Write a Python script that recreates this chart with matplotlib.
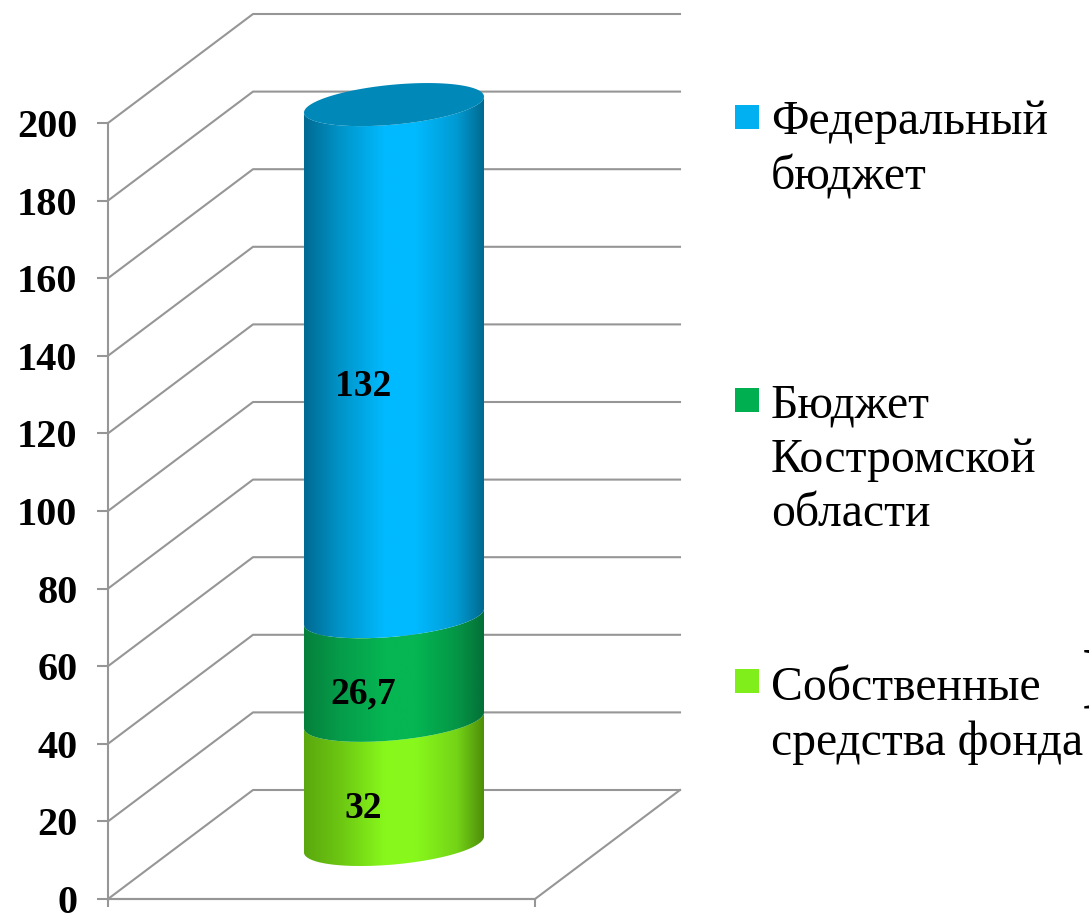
import numpy as np
import matplotlib
matplotlib.use("Agg")
import matplotlib.pyplot as plt
from matplotlib.colors import LinearSegmentedColormap
from matplotlib.patches import PathPatch, Rectangle
from matplotlib.path import Path

# data
series = ["Собственные\nсредства фонда", "Бюджет\nКостромской\nобласти", "Федеральный\nбюджет"]
values = [32, 26.7, 132]
value_labels = ["32", "26,7", "132"]
y_ticks = [0, 20, 40, 60, 80, 100, 120, 140, 160, 180, 200]

# colours of the cylinder: edge, centre, other edge
grads = [
    ["#5aa80e", "#6cc612", "#88f81c", "#88f81c", "#74d416", "#4f8f0a"],
    ["#05803c", "#059c4a", "#05b652", "#05b652", "#049646", "#047038"],
    ["#006a92", "#0094c8", "#00baff", "#00baff", "#009ad2", "#006a90"],
]
legend_colors = ["#7fee1a", "#00b050", "#00b0f0"]
top_color = "#0088b8"
grid_color = "#969696"

W, H = 1089, 913
fig = plt.figure(figsize=(W / 100, H / 100), dpi=100)
# plot box: front face of the 3d chart, in pixels
L, R, B, T = 108, 535, 899, 123
ax = fig.add_axes([L / W, 1 - B / H, (R - L) / W, (B - T) / H])
ax.patch.set_visible(False)

px_x = 1 / (R - L)
px_y = 200 / (B - T)
depth_x = 145 * px_x
depth_y = 109 * px_y

# walls and floor
for v in y_ticks:
    ax.plot([0, depth_x, 1 + depth_x], [v, v + depth_y, v + depth_y],
            color=grid_color, lw=1.5, clip_on=False, zorder=1)
ax.plot([0, 1, 1 + depth_x], [0, 0, depth_y], color=grid_color, lw=1.5, clip_on=False, zorder=1)

# cylinder
cx = 0.5 + depth_x / 2
base = depth_y / 2
a = 90 * px_x
shear = 8 * px_y
b = 20 * px_y
t = np.linspace(np.pi, 2 * np.pi, 80)


def front_arc(level):
    return cx + a * np.cos(t), base + level + shear * np.cos(t) + b * np.sin(t)


tops = np.cumsum(values)
lows = tops - np.array(values)
for i in range(len(values)):
    x0, y0 = front_arc(lows[i])
    x1, y1 = front_arc(tops[i])
    xs = np.r_[x0, x1[::-1], x0[0]]
    ys = np.r_[y0, y1[::-1], y0[0]]
    shape = PathPatch(Path(np.c_[xs, ys]), facecolor="none", edgecolor="none", transform=ax.transData)
    ax.add_patch(shape)
    cmap = LinearSegmentedColormap.from_list(
        "c%d" % i, list(zip([0, 0.2, 0.45, 0.62, 0.85, 1], grads[i])))
    img = ax.imshow(np.linspace(0, 1, 256)[None, :], cmap=cmap, aspect="auto",
                    extent=[cx - a, cx + a, ys.min(), ys.max()], zorder=3)
    img.set_clip_box(fig.bbox)  # the stack goes above the 200 line
    img.set_clip_path(shape)

# top cap of the stack
tt = np.linspace(0, 2 * np.pi, 160)
cap = np.c_[cx + a * np.cos(tt), base + tops[-1] + shear * np.cos(tt) + b * np.sin(tt)]
ax.add_patch(PathPatch(Path(cap), facecolor=top_color, edgecolor="none", zorder=4, clip_on=False))

# value labels
for low, v, lab in zip(lows, values, value_labels):
    ax.text(cx - 31 * px_x, low + v / 2 + 7.4, lab, ha="center", va="center", color="black",
            family="Liberation Serif", weight="bold", fontsize=27, zorder=5)

ax.set_xlim(0, 1)
ax.set_ylim(0, 200)
ax.set_xticks([0, 1])
ax.set_xticklabels([])
ax.set_yticks(y_ticks)
ax.set_yticklabels([str(v) for v in y_ticks], family="Liberation Serif", weight="bold", fontsize=29)
ax.tick_params(axis="y", length=8, width=1.5, color=grid_color, pad=14)
ax.tick_params(axis="x", length=6, width=1.5, color=grid_color)
for s in ["top", "right"]:
    ax.spines[s].set_visible(False)
for s in ["left", "bottom"]:
    ax.spines[s].set_color(grid_color)
    ax.spines[s].set_linewidth(1.5)

# legend, placed by hand like in the slide
legend_y = [681, 400, 117]
text_top = [666, 383, 100]
for name, col, y, ty in zip(series, legend_colors, legend_y, text_top):
    fig.add_artist(Rectangle((735 / W, 1 - (y + 12) / H), 24 / W, 24 / H, facecolor=col,
                             edgecolor="none", transform=fig.transFigure))
    fig.text(771 / W, 1 - ty / H, name, ha="left", va="top", family="Liberation Serif",
             fontsize=34.3, linespacing=1.31, color="black")

# bit of another slide element cut off by the right edge
fig.text(1081 / W, 1 - 686 / H, "I", ha="left", va="center", family="Liberation Serif", fontsize=64)

fig.savefig("out.png", dpi=100)
